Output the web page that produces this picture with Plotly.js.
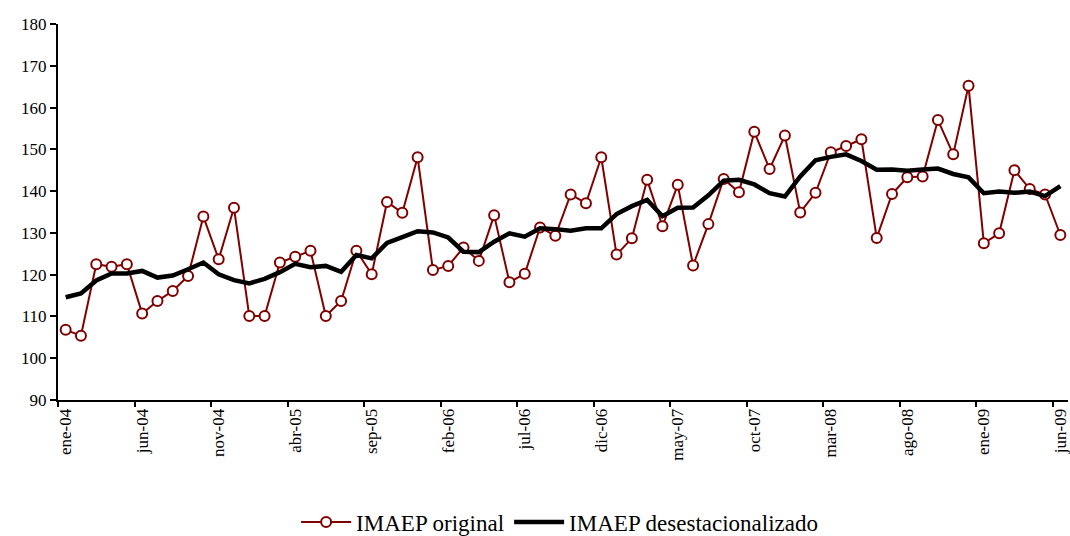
<!DOCTYPE html>
<html>
<head>
<meta charset="utf-8">
<script src="https://cdn.plot.ly/plotly-3.0.1.min.js"></script>
<style>html,body{margin:0;padding:0;background:#fff;}#chart{width:1070px;height:536px;}</style>
</head>
<body>
<div id="chart"></div>
<script>
const months = ["ene","feb","mar","abr","may","jun","jul","ago","sep","oct","nov","dic"];
const years = ["04","05","06","07","08","09"];
const categories = [];
for (const yy of years) for (const m of months) categories.push(m + "-" + yy);
categories.length = 66; // ene-04 .. jun-09

const imaepOriginal = [
  106.8,105.4,122.5,121.9,122.5,110.7,113.7,116.1,119.7,133.9,123.7,136.0,
  110.1,110.1,122.9,124.3,125.7,110.1,113.7,125.7,120.1,137.4,134.8,148.1,
  121.1,122.1,126.5,123.3,134.2,118.2,120.2,131.3,129.3,139.2,137.1,148.1,
  124.8,128.7,142.7,131.6,141.5,122.2,132.1,142.9,139.7,154.2,145.3,153.3,
  134.9,139.6,149.3,150.8,152.4,128.8,139.3,143.3,143.5,157.0,148.8,165.2,
  127.5,129.9,145.0,140.5,139.2,129.5
];
const imaepDesest = [
  114.6,115.5,118.6,120.3,120.3,120.9,119.3,119.8,121.3,122.9,120.1,118.7,
  117.9,119.0,120.6,122.6,121.8,122.1,120.7,124.7,123.9,127.6,129.0,130.4,
  130.1,128.9,125.5,125.4,127.9,129.9,129.1,131.1,130.9,130.5,131.1,131.1,
  134.5,136.4,137.9,134.0,136.0,136.1,139.0,142.5,142.7,141.6,139.5,138.7,
  143.5,147.4,148.2,148.8,147.2,145.1,145.2,144.9,145.2,145.4,144.1,143.3,
  139.5,139.9,139.6,139.9,138.8,141.2
];
const labelEvery = 5;

const idx = categories.map((_, i) => i);
const labelVals = idx.filter(i => i % labelEvery === 0);
const labelText = labelVals.map(i => categories[i]);
const boundaryVals = labelVals.map(i => i - 0.5);
const xr = [-0.5, categories.length - 0.5];

const fontFam = "'Liberation Serif', 'Times New Roman', 'DejaVu Serif', serif";

const traces = [
  {
    x: idx, y: imaepOriginal, name: "IMAEP original", type: "scatter", mode: "lines+markers",
    line: {color: "#800000", width: 2},
    marker: {symbol: "circle", size: 10, color: "#ffffff", line: {color: "#800000", width: 2}}
  },
  {
    x: idx, y: imaepDesest, name: "IMAEP desestacionalizado", type: "scatter", mode: "lines",
    line: {color: "#000000", width: 4.5}
  },
  { x: [], y: [], xaxis: "x2", showlegend: false, hoverinfo: "skip", type: "scatter" }
];

const layout = {
  width: 1070, height: 536,
  margin: {l: 58, r: 2, t: 24, b: 136},
  paper_bgcolor: "#ffffff", plot_bgcolor: "#ffffff",
  font: {family: fontFam, color: "#000000", size: 17},
  showlegend: true,
  legend: {orientation: "h", x: 0.523, xref: "container", xanchor: "center",
           y: 0.026, yref: "container", yanchor: "middle",
           font: {family: fontFam, size: 23, color: "#000"}, itemwidth: 50, tracegroupgap: 0},
  xaxis: {
    automargin: false,
    range: xr, tickmode: "array", tickvals: labelVals, ticktext: labelText,
    tickangle: -90, ticks: "", showline: true, linecolor: "#000", linewidth: 2,
    showgrid: false, zeroline: false, tickfont: {family: fontFam, size: 17, color: "#000"}
  },
  xaxis2: {
    overlaying: "x", anchor: "y", side: "bottom", range: xr, automargin: false,
    tickmode: "array", tickvals: boundaryVals, ticks: "outside", ticklen: 6, tickwidth: 2,
    tickcolor: "#000", showticklabels: false, showline: false, showgrid: false, zeroline: false
  },
  yaxis: {
    automargin: false,
    range: [90, 180], dtick: 10, tick0: 90, ticks: "outside", ticklen: 6, tickwidth: 2,
    tickcolor: "#000", showline: true, linecolor: "#000", linewidth: 2,
    showgrid: false, zeroline: false, tickfont: {family: fontFam, size: 17, color: "#000"}
  }
};

Plotly.newPlot("chart", traces, layout, {displayModeBar: false, staticPlot: true});
</script>
</body>
</html>
